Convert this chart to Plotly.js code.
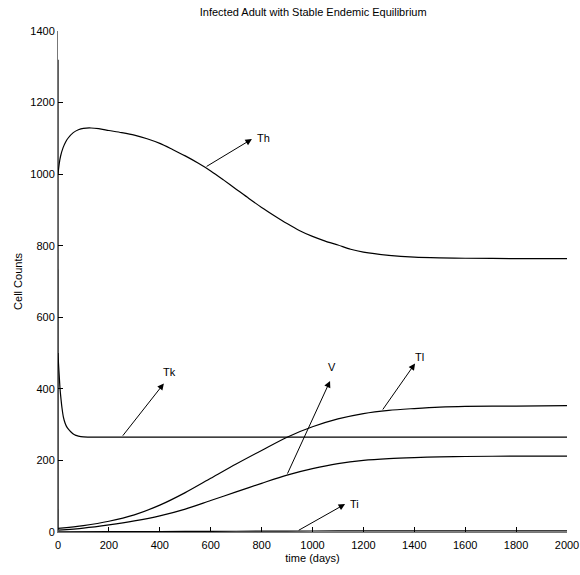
<!DOCTYPE html>
<html>
<head>
<meta charset="utf-8">
<script src="https://cdn.plot.ly/plotly-3.0.1.min.js"></script>
<style>html,body{margin:0;padding:0;background:#fff;}#chart{width:580px;height:575px;}</style>
</head>
<body>
<div id="chart"></div>
<script>
// Helper T cells
const tTh = [0,5,10,20,30,40,60,80,100,130,160,200,250,300,350,400,450,500,550,600,650,700,750,800,850,900,950,1000,1050,1100,1150,1200,1300,1400,1500,1600,1800,2000];
const Th  = [1000,1030,1050,1074,1090,1101,1116,1124,1128,1129,1127,1122,1116,1109,1099,1086,1069,1051,1031,1009,984,958,932,907,884,862,842,826,813,802,790,782,773,768,766,765,764,764];
// Killer T cells
const tTk = [0,2,5,8,12,16,21,28,35,40,50,60,70,80,100,150,200,400,800,1200,1600,2000];
const Tk  = [500,470,435,400,370,345,322,304,293,288,280,274,270,268,266,265,265,265,265,265,265,265];
// Latently infected cells
const tTl = [0,100,200,300,400,500,600,700,800,900,1000,1100,1200,1300,1400,1500,1600,1800,2000];
const Tl  = [10,18,30,48,75,110,150,190,228,265,294,316,331,340,345,349,351,352,353];
// Virus
const tV = [0,0.5,100,200,300,400,500,600,700,800,900,1000,1100,1200,1300,1400,1500,1600,1800,2000];
const V  = [1320,5,11,20,31,45,64,88,112,136,159,177,191,200,205,208,210,211,212,212];
// Actively infected cells
const tTi = [0,200,400,600,800,1000,1200,1400,1600,1800,2000];
const Ti  = [0.5,0.8,1.2,1.8,2.4,2.8,3,3.1,3.1,3.1,3.1];

// Label annotations
const labelNames = ['Th','Tk','V','Tl','Ti'];
const tailX = [578, 250, 899, 1272, 940];
const tailY = [1019, 265, 159, 338, 2.5];
const headX = [762, 416, 1069, 1403, 1128];
const headY = [1098, 415, 422, 471, 78];
const textX = [774, 438, 1075, 1422, 1139];
const textY = [1100, 447, 461, 489, 78];
const textAnchor = ['left','center','center','center','left'];

const ff = 'Liberation Sans, Arial, sans-serif';
function curve(x, y, shape) {
  return {type:'scatter', mode:'lines', x:x, y:y, hoverinfo:'skip',
          line:{color:'#000', width:1.2, shape:shape, smoothing:0.8}};
}
const traces = [
  curve(tTh, Th, 'spline'),
  curve(tTk, Tk, 'spline'),
  curve(tTl, Tl, 'spline'),
  curve(tV.slice(0,2), V.slice(0,2), 'linear'),
  curve(tV.slice(1), V.slice(1), 'spline'),
  curve(tTi, Ti, 'spline')
];

const annotations = [];
for (let i = 0; i < labelNames.length; i++) {
  annotations.push({
    x: headX[i], y: headY[i], xref:'x', yref:'y',
    ax: tailX[i], ay: tailY[i], axref:'x', ayref:'y',
    text:'', showarrow:true, arrowhead:2, arrowsize:1.3, arrowwidth:1, arrowcolor:'#000'
  });
  annotations.push({
    x: textX[i], y: textY[i], xref:'x', yref:'y',
    text: labelNames[i], showarrow:false, xanchor:textAnchor[i], yanchor:'middle',
    font:{family:ff, size:11, color:'#000'}
  });
}

const font = {family:ff, size:11, color:'#000'};
const layout = {
  width:580, height:575,
  margin:{l:58, r:13, t:31, b:43},
  paper_bgcolor:'#fff', plot_bgcolor:'#fff',
  showlegend:false,
  font: font,
  title:{text:'Infected Adult with Stable Endemic Equilibrium', font:{family:ff, size:11, color:'#000'}, x:0.54, xanchor:'center', y:0.979, yanchor:'middle'},
  xaxis:{
    range:[0,2000], tickvals:[0,200,400,600,800,1000,1200,1400,1600,1800,2000],
    ticks:'inside', ticklen:5, tickcolor:'#000', showline:true, linecolor:'#777', linewidth:1,
    showgrid:false, zeroline:false, layer:'below traces', ticklabelstandoff:3,
    title:{text:'time (days)', font:font, standoff:4},
    tickfont:font, automargin:false
  },
  yaxis:{
    range:[0,1400], tickvals:[0,200,400,600,800,1000,1200,1400],
    ticks:'inside', ticklen:5, tickcolor:'#000', showline:true, linecolor:'#777', linewidth:1,
    showgrid:false, zeroline:false, layer:'below traces',
    title:{text:'Cell Counts', font:font, standoff:5},
    tickfont:font, automargin:false
  },
  annotations: annotations
};
Plotly.newPlot('chart', traces, layout, {staticPlot:true, displayModeBar:false});
</script>
</body>
</html>
